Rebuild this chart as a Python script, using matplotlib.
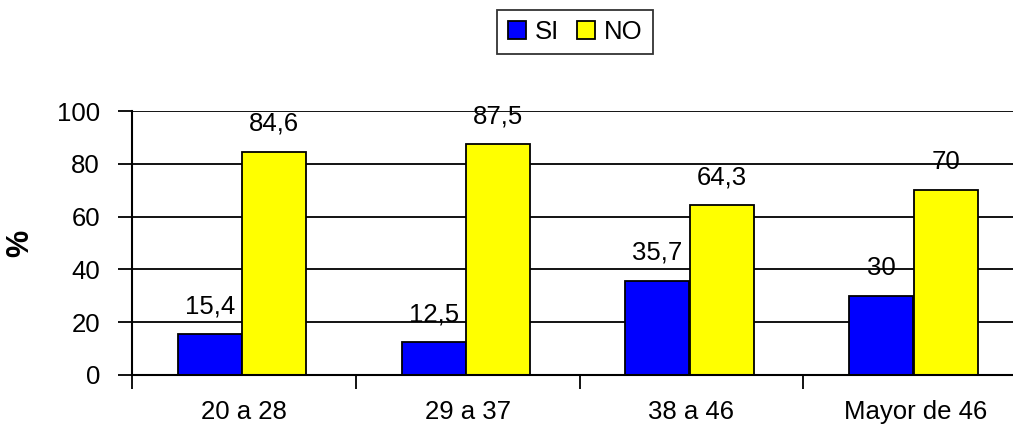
import matplotlib.pyplot as plt
import numpy as np

categorias = ["20 a 28", "29 a 37", "38 a 46", "Mayor de 46"]
si = [15.4, 12.5, 35.7, 30]
no = [84.6, 87.5, 64.3, 70]
etiquetas_si = ["15,4", "12,5", "35,7", "30"]
etiquetas_no = ["84,6", "87,5", "64,3", "70"]

plt.rcParams['font.family'] = ['Liberation Sans', 'DejaVu Sans']
fs = 18.5

fig = plt.figure(figsize=(10.13, 4.26), dpi=100)
ax = fig.add_axes([132 / 1013, 51 / 426, 895 / 1013, 264 / 426])

x = np.arange(len(categorias))
w = 0.286
b1 = ax.bar(x - 0.152, si, w, color="#0000FF", edgecolor="black", linewidth=1.3, label="SI", zorder=3)
b2 = ax.bar(x + 0.136, no, w, color="#FFFF00", edgecolor="black", linewidth=1.3, label="NO", zorder=3)

for rect, t in zip(b1, etiquetas_si):
    ax.text(rect.get_x() + rect.get_width() / 2, rect.get_height() + 6, t,
            ha="center", va="bottom", fontsize=fs, zorder=4)
for rect, t in zip(b2, etiquetas_no):
    ax.text(rect.get_x() + rect.get_width() / 2, rect.get_height() + 6, t,
            ha="center", va="bottom", fontsize=fs, zorder=4)

ax.set_xlim(-0.5, 3.5)
ax.set_ylim(0, 100)
ax.set_yticks([0, 20, 40, 60, 80, 100])
ax.yaxis.grid(True, color="black", linewidth=1.3, zorder=0)
ax.set_axisbelow(True)

ax.set_xticks(x)
ax.set_xticklabels(categorias)
ax.set_xticks(np.arange(-0.5, 4, 1), minor=True)
ax.tick_params(axis="x", which="major", length=0, pad=18, labelsize=fs)
ax.tick_params(axis="x", which="minor", length=10, width=1.3, direction="out")
ax.tick_params(axis="y", length=10, width=1.3, pad=13, labelsize=fs)

for s in ["top", "right"]:
    ax.spines[s].set_visible(False)
for s in ["left", "bottom"]:
    ax.spines[s].set_linewidth(1.5)
    ax.spines[s].set_zorder(5)

ax.set_ylabel("%", fontsize=22, fontweight="bold")
ax.yaxis.set_label_coords(-0.108, 0.5)

leg = fig.legend(loc="center", bbox_to_anchor=(575 / 1013, 1 - 32 / 426), ncol=2,
                 fontsize=fs, frameon=True, fancybox=False, edgecolor="black",
                 handlelength=0.7, handleheight=0.7, handletextpad=0.35,
                 columnspacing=0.7, borderpad=0.4)
leg.get_frame().set_linewidth(1.3)

fig.savefig("out.png", dpi=100)
